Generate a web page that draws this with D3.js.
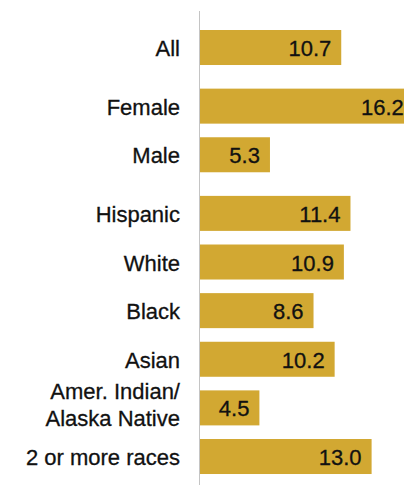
<!DOCTYPE html>
<html>
<head>
<meta charset="utf-8">
<script src="https://cdn.jsdelivr.net/npm/d3@7"></script>
<style>
  html, body { margin: 0; padding: 0; background: #fff; }
  svg { display: block; }
  text { font-family: "Liberation Sans", Arial, sans-serif; }
</style>
</head>
<body>
<script>
// Row labels (each entry is the list of lines for that label)
const categories = [
  ["All"],
  ["Female"],
  ["Male"],
  ["Hispanic"],
  ["White"],
  ["Black"],
  ["Asian"],
  ["Amer. Indian/", "Alaska Native"],
  ["2 or more races"]
];
// Share, in percent
const values = [10.7, 16.2, 5.3, 11.4, 10.9, 8.6, 10.2, 4.5, 13.0];
// Grouping: overall, by sex, by race/ethnicity
const groups = [0, 1, 1, 2, 2, 2, 2, 2, 2];

const width = 404, height = 485;
const x0 = 200;
const groupGap = 10;
const rows = d3.range(values.length);

const svg = d3.select("body").append("svg")
  .attr("width", width).attr("height", height);

const x = d3.scaleLinear().domain([0, 1]).range([x0, x0 + 13.2]);

const y = d3.scaleBand()
  .domain(rows)
  .range([23.2, 23.2 + 9 * 48.625])
  .paddingInner(0.28)
  .paddingOuter(0.14);

const yPos = i => y(i) + groups[i] * groupGap;

// Baseline
svg.append("line")
  .attr("x1", x0 - 0.5).attr("x2", x0 - 0.5)
  .attr("y1", 11).attr("y2", height)
  .attr("stroke", "#c4c4c4").attr("stroke-width", 1);

const row = svg.selectAll("g.row").data(rows).join("g")
  .attr("class", "row")
  .attr("transform", i => `translate(0,${yPos(i)})`);

row.append("rect")
  .attr("x", x(0))
  .attr("y", 0)
  .attr("width", i => x(values[i]) - x(0))
  .attr("height", y.bandwidth())
  .attr("fill", "#d2a832");

const mid = y.bandwidth() / 2;

row.append("text")
  .attr("x", i => x(values[i]) - 10)
  .attr("y", mid + 8.5)
  .attr("text-anchor", "end")
  .attr("font-size", 22)
  .attr("fill", "#111")
  .attr("stroke", "#111")
  .attr("stroke-width", 0.3)
  .text(i => values[i].toFixed(1));

row.append("text")
  .attr("text-anchor", "end")
  .attr("font-size", 22)
  .attr("fill", "#111")
  .attr("stroke", "#111")
  .attr("stroke-width", 0.3)
  .each(function(i) {
    const lines = categories[i];
    const t = d3.select(this);
    const first = lines.length === 1 ? mid + 8.5 : mid - 8.5;
    lines.forEach((s, k) => {
      t.append("tspan")
        .attr("x", 180)
        .attr("y", first + k * 27)
        .text(s);
    });
  });
</script>
</body>
</html>
